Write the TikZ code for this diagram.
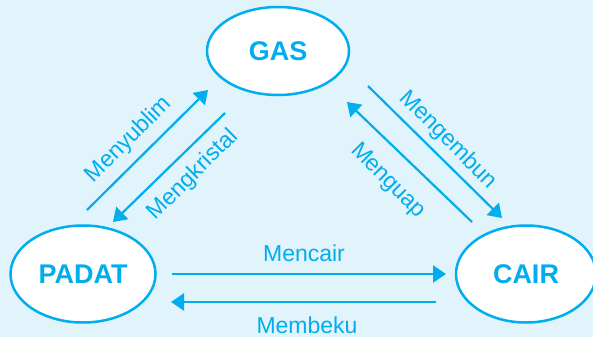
\documentclass[tikz,border=0pt]{standalone}
\usepackage{fontspec}
\setmainfont{Liberation Sans}
\usetikzlibrary{shapes.geometric,arrows.meta}
\definecolor{phase}{HTML}{00AEEF}
\definecolor{paper}{HTML}{E1F3FB}
\tikzset{
  state/.style={ellipse, draw=phase, line width=2.5pt, fill=white, inner sep=0pt,
    text=phase, font=\fontsize{27}{30}\selectfont\bfseries},
  flow/.style={draw=phase, line width=2.2pt,
    -{Triangle[length=13pt,width=17pt]}},
  lbl/.style={text=phase, inner sep=0pt, font=\fontsize{23}{26}\selectfont}
}
\begin{document}
\begin{tikzpicture}[x=1pt,y=-1pt]
  \fill[paper] (0,0) rectangle (593,337);
  \useasboundingbox (0,0) rectangle (593,337);

  % states of matter
  \node[state, minimum width=142pt, minimum height=88pt] (gas) at (278,51) {GAS};
  \node[state, minimum width=145pt, minimum height=97pt] (padat) at (83,274) {PADAT};
  \node[state, minimum width=140pt, minimum height=97pt] (cair) at (526,274) {CAIR};

  % arrow end points
  \coordinate (syA) at (87,210);   \coordinate (syB) at (208,90);
  \coordinate (mkA) at (225,113);  \coordinate (mkB) at (113,222);
  \coordinate (meA) at (368,86);   \coordinate (meB) at (502,218);
  \coordinate (mgA) at (472,222);  \coordinate (mgB) at (347,102);
  \coordinate (mcA) at (172,274);  \coordinate (mcB) at (446,274);
  \coordinate (mbA) at (436,302);  \coordinate (mbB) at (171,302);

  \draw[flow] (syA) -- (syB);
  \draw[flow] (mkA) -- (mkB);
  \draw[flow] (meA) -- (meB);
  \draw[flow] (mgA) -- (mgB);
  \draw[flow] (mcA) -- (mcB);
  \draw[flow] (mbA) -- (mbB);

  % transition names
  \node[lbl, rotate=45] (tsy) at (129,140) {Menyublim};
  \node[lbl, rotate=45] (tmk) at (193,175) {Mengkristal};
  \node[lbl, rotate=-45] (tme) at (448,140) {Mengembun};
  \node[lbl, rotate=-45] (tmg) at (388,181) {Menguap};
  \node[lbl, anchor=base] (tmc) at (304,261) {Mencair};
  \node[lbl, anchor=base] (tmb) at (307,333) {Membeku};
\end{tikzpicture}
\end{document}
